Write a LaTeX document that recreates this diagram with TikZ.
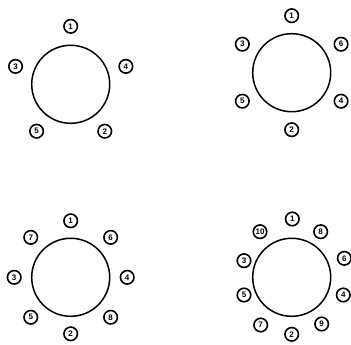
\documentclass[tikz,border=0pt]{standalone}
\usepackage{fontspec}
\setmainfont{Liberation Sans}
\usetikzlibrary{calc}
\begin{document}
\begin{tikzpicture}[x=1pt,y=-1pt,
  big/.style={circle,draw,line width=1.5pt,minimum size=78pt,inner sep=0pt},
  pin/.style={circle,draw,line width=1.6pt,minimum size=13.5pt,inner sep=0pt,font=\bfseries\fontsize{8}{8}\selectfont}]
\useasboundingbox (0,0) rectangle (351,345);
% panel 1
\node[big] (c1) at (70.7,84.3) {};
\foreach \n/\a in {1/90,4/18,2/-54,5/-126,3/162}
  \node[pin] (p1-\n) at ($(c1)+(\a:58pt)$) {\n};
% panel 2
\node[big] (c2) at (291.7,72.7) {};
\foreach \n/\a in {1/90,6/30,4/-30,2/-90,5/-150,3/150}
  \node[pin] (p2-\n) at ($(c2)+(\a:57pt)$) {\n};
% panel 3
\node[big] (c3) at (70.7,277.3) {};
\foreach \n/\a in {1/90,6/45,4/0,8/-45,2/-90,5/-135,3/180,7/135}
  \node[pin] (p3-\n) at ($(c3)+(\a:56.5pt)$) {\n};
% panel 4
\node[big] (c4) at (291.7,277.3) {};
\foreach \n/\x/\y in {1/292.3/219,8/320.7/231.7,6/344.3/258.3,4/343.3/295,9/321.7/324,
                      2/291.7/334.3,7/260.7/325,5/244/295,3/244/260.7,10/260/231.7}
  \node[pin] (p4-\n) at (\x,\y) {\n};
\end{tikzpicture}
\end{document}
